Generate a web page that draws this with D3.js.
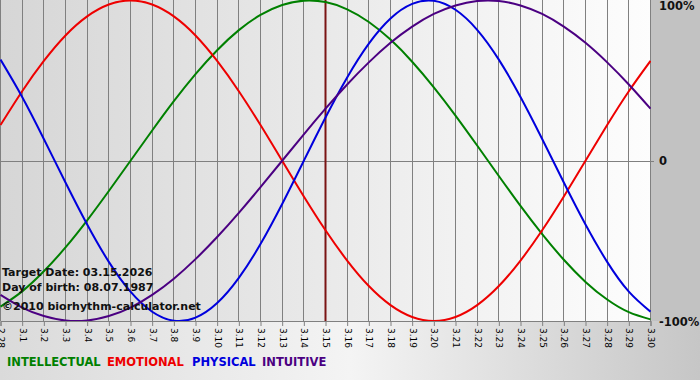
<!DOCTYPE html>
<html>
<head>
<meta charset="utf-8">
<script src="https://cdn.jsdelivr.net/npm/d3@7"></script>
<style>
  html, body { margin: 0; padding: 0; background: #c4c4c4; }
  svg { display: block; }
</style>
</head>
<body>
<svg id="chart" width="700" height="380"></svg>
<script>
// ---- data ----
const days = ["2.28","3.1","3.2","3.3","3.4","3.5","3.6","3.7","3.8","3.9","3.10","3.11","3.12","3.13","3.14","3.15","3.16","3.17","3.18","3.19","3.20","3.21","3.22","3.23","3.24","3.25","3.26","3.27","3.28","3.29","3.30"];
const intellectual = [-0.910,-0.815,-0.690,-0.541,-0.372,-0.189,0.000,0.189,0.372,0.541,0.690,0.815,0.910,0.972,0.999,0.990,0.945,0.866,0.756,0.618,0.458,0.282,0.095,-0.095,-0.282,-0.458,-0.618,-0.756,-0.866,-0.945,-0.990];
const emotional = [0.223,0.434,0.623,0.782,0.901,0.975,1.000,0.975,0.901,0.782,0.623,0.434,0.223,0.000,-0.223,-0.434,-0.623,-0.782,-0.901,-0.975,-1.000,-0.975,-0.901,-0.782,-0.623,-0.434,-0.223,0.000,0.223,0.434,0.623];
const physical = [0.631,0.398,0.136,-0.136,-0.398,-0.631,-0.817,-0.942,-0.998,-0.979,-0.888,-0.731,-0.520,-0.270,0.000,0.270,0.520,0.731,0.888,0.979,0.998,0.942,0.817,0.631,0.398,0.136,-0.136,-0.398,-0.631,-0.817,-0.942];
const intuitive = [-0.837,-0.916,-0.969,-0.997,-0.997,-0.969,-0.916,-0.837,-0.736,-0.614,-0.476,-0.325,-0.165,0.000,0.165,0.325,0.476,0.614,0.736,0.837,0.916,0.969,0.997,0.997,0.969,0.916,0.837,0.736,0.614,0.476,0.325];
const yTicks = [1, 0, -1];
const yTickLabels = ["100%", "0", "-100%"];
const targetDay = "3.15";
const infoLines = ["Target Date: 03.15.2026", "Day of birth: 08.07.1987", "\u00A92010 biorhythm-calculator.net"];
const legendNames = ["INTELLECTUAL", "EMOTIONAL", "PHYSICAL", "INTUITIVE"];

// ---- layout ----
const W = 700, H = 380;
const plotW = 651, plotH = 321;
const svg = d3.select("#chart");
const defs = svg.append("defs");

const gPlot = defs.append("linearGradient").attr("id", "gPlot").attr("x1", 0).attr("x2", 1).attr("y1", 0).attr("y2", 0);
gPlot.append("stop").attr("offset", "0%").attr("stop-color", "#d6d6d6");
gPlot.append("stop").attr("offset", "100%").attr("stop-color", "#fdfdfd");

const gBottom = defs.append("linearGradient").attr("id", "gBottom").attr("x1", 0).attr("x2", 1).attr("y1", 0).attr("y2", 0);
gBottom.append("stop").attr("offset", "0%").attr("stop-color", "#dadada");
gBottom.append("stop").attr("offset", "50%").attr("stop-color", "#f4f4f4");
gBottom.append("stop").attr("offset", "100%").attr("stop-color", "#c6c6c6");

defs.append("clipPath").attr("id", "clipPlot").append("rect")
  .attr("x", 0).attr("y", 0).attr("width", plotW).attr("height", plotH);

// backgrounds
svg.append("rect").attr("x", 0).attr("y", 0).attr("width", W).attr("height", H).attr("fill", "#c2c2c2");
svg.append("rect").attr("x", 0).attr("y", plotH).attr("width", W).attr("height", H - plotH).attr("fill", "url(#gBottom)");
svg.append("rect").attr("x", 0).attr("y", 0).attr("width", plotW).attr("height", plotH).attr("fill", "url(#gPlot)");

const x = d3.scalePoint().domain(days).range([0, 650]);
const y = d3.scaleLinear().domain([-1, 1]).range([plotH, 0.5]);

// vertical grid lines
svg.append("g").selectAll("line").data(days).join("line")
  .attr("x1", d => Math.round(x(d)) + 0.5).attr("x2", d => Math.round(x(d)) + 0.5)
  .attr("y1", 0).attr("y2", plotH)
  .attr("stroke", "#808080").attr("stroke-width", 1);

// zero line
svg.append("line")
  .attr("x1", 0).attr("x2", plotW + 3)
  .attr("y1", Math.round(y(0)) + 0.5).attr("y2", Math.round(y(0)) + 0.5)
  .attr("stroke", "#808080").attr("stroke-width", 1);

// bottom axis
const xAxis = d3.axisBottom(x).tickSize(5).tickPadding(4);
const gx = svg.append("g").attr("transform", `translate(0.5,${plotH})`).call(xAxis);
gx.select(".domain").attr("stroke", "#808080");
gx.selectAll(".tick line").attr("stroke", "#808080");
gx.selectAll(".tick text")
  .attr("transform", "rotate(90)")
  .attr("x", 7).attr("y", 0).attr("dy", "0.33em")
  .attr("text-anchor", "start")
  .attr("fill", "#000")
  .style("font-family", "'DejaVu Sans', Verdana, sans-serif")
  .style("font-size", "9px");

// target day marker
svg.append("line")
  .attr("x1", x(targetDay) + 0.5).attr("x2", x(targetDay) + 0.5)
  .attr("y1", 0).attr("y2", plotH)
  .attr("stroke", "#7a1414").attr("stroke-width", 2);

// curves
const series = [
  { name: legendNames[0], values: intellectual, color: "#008000" },
  { name: legendNames[1], values: emotional, color: "#ee0000" },
  { name: legendNames[2], values: physical, color: "#0000dd" },
  { name: legendNames[3], values: intuitive, color: "#4b0082" }
];
const line = d3.line()
  .x((d, i) => x(days[i]) + 0.5)
  .y(d => y(d))
  .curve(d3.curveNatural);

const gLines = svg.append("g").attr("clip-path", "url(#clipPlot)");
gLines.selectAll("path").data(series).join("path")
  .attr("d", d => line(d.values))
  .attr("fill", "none")
  .attr("stroke", d => d.color)
  .attr("stroke-width", 2);

// right-side labels
svg.append("g").selectAll("text").data(yTicks).join("text")
  .attr("x", 659)
  .attr("y", (d, i) => [10, 165, 326][i])
  .text((d, i) => yTickLabels[i])
  .attr("fill", "#111")
  .style("font-family", "'DejaVu Sans', Verdana, sans-serif")
  .style("font-weight", "bold")
  .style("font-size", "11.5px");

// info text
svg.append("g").selectAll("text").data(infoLines).join("text")
  .attr("x", 2)
  .attr("y", (d, i) => [276, 291, 310][i])
  .text(d => d)
  .attr("fill", "#111")
  .style("font-family", "'DejaVu Sans', Verdana, sans-serif")
  .style("font-weight", "bold")
  .style("font-size", "11px");

// legend
const legendX = [7, 107, 192, 262];
svg.append("g").selectAll("text").data(series).join("text")
  .attr("x", (d, i) => legendX[i])
  .attr("y", 366)
  .text(d => d.name)
  .attr("fill", d => d.color)
  .style("font-family", "'DejaVu Sans', Verdana, sans-serif")
  .style("font-weight", "bold")
  .style("font-size", "11.5px");
</script>
</body>
</html>
